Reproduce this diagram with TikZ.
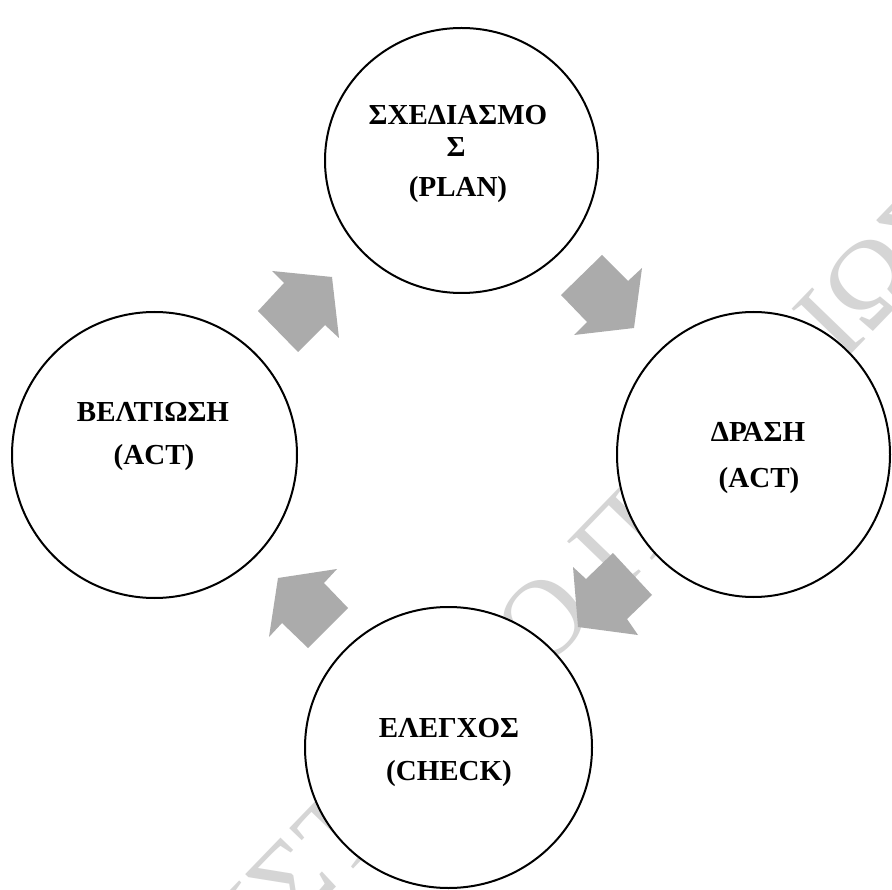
\documentclass[tikz,border=0pt]{standalone}
\usepackage{fontspec}
\setmainfont{Liberation Serif}
\usetikzlibrary{shapes.geometric}
\definecolor{arrowgray}{HTML}{ABABAB}
\definecolor{markgray}{HTML}{D5D5D5}
\begin{document}
\begin{tikzpicture}[x=1pt,y=-1pt,
  stage/.style={ellipse, draw=black, line width=2pt, fill=white, inner sep=0pt},
  caption/.style={anchor=base, inner sep=0pt, font=\fontsize{29}{29}\selectfont\bfseries},
  blockarrow/.style={fill=arrowgray},
  watermark/.style={inner sep=0pt, text=markgray, font=\fontsize{113}{113}\selectfont}]
\fill[white] (0,0) rectangle (892,890);
\useasboundingbox (0,0) rectangle (892,890);

% watermark behind the cycle
\begin{scope}
  \clip (0,0) rectangle (892,890);
  \node[watermark, rotate=46] (mark) at (457,709) {ΠΑΝΕΠΙΣΤΗΜΙΟ ΠΕΙΡΑΙΩΣ};
\end{scope}

% the four stages
\node[stage, minimum width=273pt, minimum height=265pt] (plan)    at (461.5,160.5) {};
\node[stage, minimum width=285pt, minimum height=286pt] (improve) at (154.5,455) {};
\node[stage, minimum width=273pt, minimum height=285pt] (act)     at (753.5,454.5) {};
\node[stage, minimum width=287pt, minimum height=281pt] (check)   at (448.5,747.5) {};

% block arrows between the stages
\fill[blockarrow] (258,311) -- (284,283) -- (272,271) -- (332,277) -- (339,338) -- (325,325) -- (298,352) -- cycle;
\fill[blockarrow] (602,255) -- (628,281) -- (642,268) -- (634,328) -- (574,335) -- (587,322) -- (561,295) -- cycle;
\fill[blockarrow] (613,553) -- (652,595) -- (627,619) -- (638,635) -- (578,627) -- (573,567) -- (586,579) -- cycle;
\fill[blockarrow] (278,578) -- (337,569) -- (324,583) -- (348,608) -- (308,648) -- (282,623) -- (269,637) -- cycle;

% stage captions
\node[caption] (plan-a) at (458,125) {ΣΧΕΔΙΑΣΜΟ};
\node[caption] (plan-b) at (456,157) {Σ};
\node[caption] (plan-c) at (458,197) {(PLAN)};
\node[caption] (improve-a) at (153,422) {ΒΕΛΤΙΩΣΗ};
\node[caption] (improve-b) at (154,465) {(ACT)};
\node[caption] (act-a) at (758,442) {ΔΡΑΣΗ};
\node[caption] (act-b) at (759,487) {(ACT)};
\node[caption] (check-a) at (449,737) {ΕΛΕΓΧΟΣ};
\node[caption] (check-b) at (449,780) {(CHECK)};
\end{tikzpicture}
\end{document}
